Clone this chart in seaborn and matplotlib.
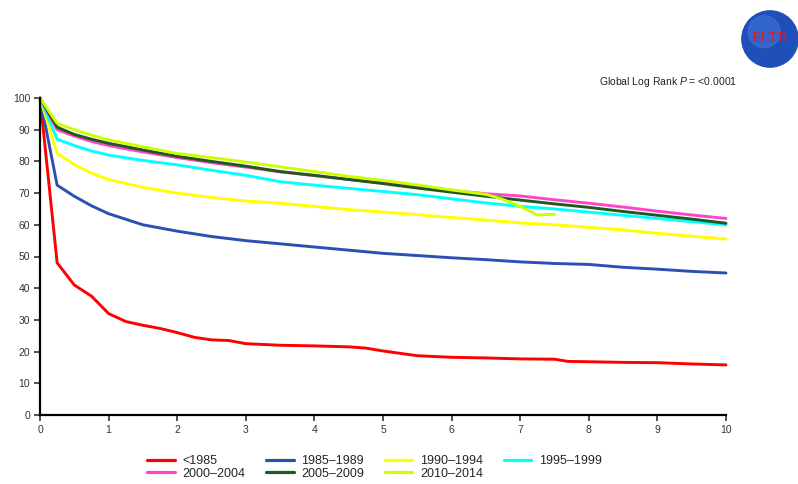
import numpy as np
import pandas as pd
import matplotlib
matplotlib.use("Agg")
import matplotlib.pyplot as plt
import seaborn as sns
from matplotlib.patches import Circle

# ---- data ----
groups = ["<1985", "1985–1989", "1990–1994", "1995–1999",
          "2000–2004", "2005–2009", "2010–2014"]
colors = ["#ff0000", "#2c4fb4", "#ffff00", "#00ffff",
          "#ff44cc", "#1e5a1e", "#ccff00"]

t_std = [0, 0.25, 0.5, 0.75, 1, 1.5, 2, 2.5, 3, 3.5, 4, 4.5, 5, 5.5,
         6, 6.5, 7, 7.5, 8, 8.5, 9, 9.5, 10]

t_lt1985 = [0, 0.25, 0.5, 0.75, 1, 1.25, 1.5, 1.75, 2, 2.25, 2.5, 2.75, 3,
            3.5, 4, 4.5, 4.75, 5, 5.5, 6, 6.5, 7, 7.5, 7.7, 8, 8.5, 9, 9.5, 10]
s_lt1985 = [100, 48, 41, 37.5, 32, 29.5, 28.3, 27.3, 26, 24.5, 23.7, 23.5,
            22.5, 22, 21.8, 21.5, 21.1, 20.2, 18.7, 18.2, 18, 17.7, 17.6,
            16.9, 16.8, 16.6, 16.5, 16.1, 15.8]

s_1985 = [100, 72.5, 69, 66, 63.5, 60, 58, 56.3, 55, 54, 53, 52, 51, 50.3,
          49.6, 49, 48.3, 47.8, 47.5, 46.6, 46, 45.3, 44.8]
s_1990 = [100, 82.5, 79, 76.3, 74.3, 71.8, 70, 68.6, 67.5, 66.8, 65.8, 64.8,
          64, 63.2, 62.3, 61.5, 60.6, 60, 59.2, 58.4, 57.3, 56.4, 55.5]
s_1995 = [100, 87, 85, 83.3, 82, 80.3, 78.9, 77.2, 75.6, 73.6, 72.5, 71.5,
          70.5, 69.5, 68.2, 66.9, 65.8, 65, 64, 63, 62, 61, 60]
s_2000 = [100, 90, 88, 86.3, 85, 83, 81.2, 79.6, 78.2, 76.7, 75.5, 74.3,
          73.2, 72, 70.8, 69.8, 69.1, 67.9, 66.8, 65.6, 64.3, 63.1, 62]
s_2005 = [100, 90.8, 88.5, 87, 85.7, 83.6, 81.6, 80, 78.5, 76.8, 75.6, 74.3,
          73, 71.6, 70.3, 69, 67.8, 66.6, 65.5, 64.2, 63, 61.8, 60.5]

t_2010 = [0, 0.25, 0.5, 0.75, 1, 1.5, 2, 2.5, 3, 3.5, 4, 4.5, 5, 5.5, 6,
          6.5, 6.75, 7, 7.25, 7.5]
s_2010 = [100, 92, 90, 88.3, 86.8, 84.6, 82.5, 81.2, 79.8, 78.3, 76.8, 75.3,
          74, 72.6, 71, 69.6, 68, 65.8, 63.1, 63.3]

series_t = [t_lt1985, t_std, t_std, t_std, t_std, t_std, t_2010]
series_s = [s_lt1985, s_1985, s_1990, s_1995, s_2000, s_2005, s_2010]

xticks = list(range(0, 11))
yticks = list(range(0, 101, 10))
pval_text = "Global Log Rank $P$ = <0.0001"

frames = []
for g, tt, ss in zip(groups, series_t, series_s):
    frames.append(pd.DataFrame({"Years": tt, "Survival": ss, "Group": g}))
df = pd.concat(frames, ignore_index=True)

# ---- style ----
sns.set_style("white")
plt.rcParams["font.family"] = ["Liberation Sans", "DejaVu Sans"]
plt.rcParams["mathtext.fontset"] = "custom"
plt.rcParams["mathtext.it"] = "Liberation Sans:italic"
plt.rcParams["mathtext.rm"] = "Liberation Sans"

fig = plt.figure(figsize=(7.98, 4.84), dpi=100)
ax = fig.add_axes([40 / 798, 1 - 415 / 484, 686 / 798, 317 / 484])

sns.lineplot(data=df, x="Years", y="Survival", hue="Group",
             hue_order=groups, palette=dict(zip(groups, colors)),
             linewidth=2.1, ax=ax, estimator=None, sort=False)

for ln in ax.get_lines():
    ln.set_clip_on(False)
    ln.set_solid_joinstyle("round")

ax.set_xlim(0, 10)
ax.set_ylim(0, 100)
ax.set_xticks(xticks)
ax.set_yticks(yticks)
ax.set_xlabel("")
ax.set_ylabel("")
for side in ["top", "right"]:
    ax.spines[side].set_visible(False)
for side in ["left", "bottom"]:
    ax.spines[side].set_color("black")
    ax.spines[side].set_linewidth(1.6)
ax.tick_params(axis="both", direction="out", length=4, width=1.2,
               color="#333333", labelsize=7.5, labelcolor="#333333", pad=3,
               left=True, bottom=True)

# legend
handles, labels = ax.get_legend_handles_labels()
ax.get_legend().remove()
order = [0, 4, 1, 5, 2, 6, 3]
leg = fig.legend([handles[i] for i in order], [labels[i] for i in order],
                 ncol=4, loc="upper left", bbox_to_anchor=(142 / 798, 1 - 450 / 484),
                 frameon=False, fontsize=9, handlelength=2.2,
                 columnspacing=1.68, labelspacing=0.05, handletextpad=0.6,
                 borderaxespad=0)
for lh in leg.get_lines():
    lh.set_linewidth(2.3)

# p-value text
fig.text(737 / 798, 1 - 82 / 484, pval_text, ha="right", va="center",
         fontsize=7.5, color="#222222")

# logo
lax = fig.add_axes([741 / 798, 1 - 68 / 484, 58 / 798, 58 / 484])
lax.set_xlim(-1, 1)
lax.set_ylim(-1, 1)
lax.set_aspect("equal")
lax.axis("off")
lax.add_patch(Circle((0, 0), 0.97, color="#1f4fb8"))
lax.add_patch(Circle((-0.2, 0.25), 0.55, color="#3f74d8", alpha=0.6))
lax.text(0, 0, "ELTR", ha="center", va="center", fontsize=11,
         color="#d81e2a", family="Liberation Serif")

fig.savefig("out.png", dpi=100, facecolor="white")
